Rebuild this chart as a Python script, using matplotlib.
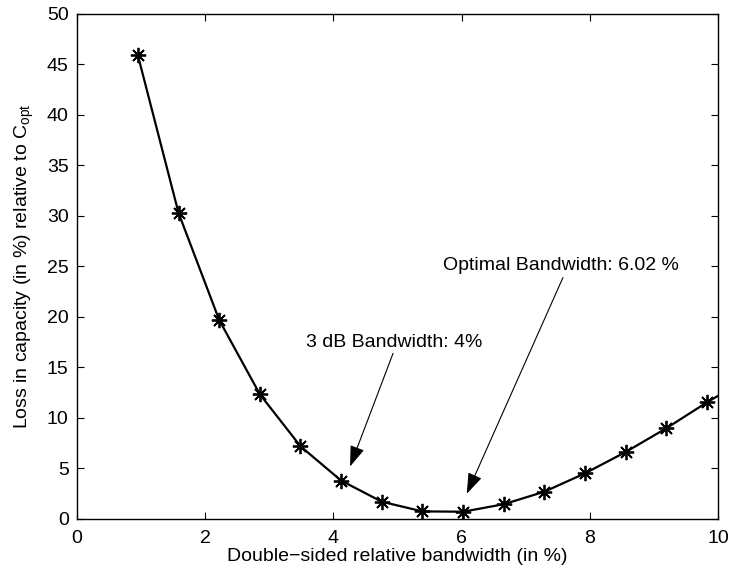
import numpy as np
import matplotlib
matplotlib.use('Agg')
import matplotlib.pyplot as plt

# bandwidth (%) vs capacity loss (%)
bandwidth = [0.95, 1.584, 2.218, 2.852, 3.486, 4.12, 4.754, 5.388, 6.022,
             6.656, 7.29, 7.924, 8.558, 9.192, 9.826, 10.46]
loss = [45.9, 30.3, 19.7, 12.35, 7.2, 3.8, 1.71, 0.75, 0.72,
        1.46, 2.7, 4.52, 6.63, 8.98, 11.55, 13.9]

xticks = [0, 2, 4, 6, 8, 10]
yticks = [0, 5, 10, 15, 20, 25, 30, 35, 40, 45, 50]

plt.rcParams['font.family'] = ['Liberation Sans', 'DejaVu Sans']
fs = 14

fig = plt.figure(figsize=(7.32, 5.71), dpi=100)
ax = fig.add_axes([0.1052, 0.0911, 0.8758, 0.8844])

# matlab-style asterisk marker (8 spokes)
ax.plot(bandwidth, loss, color='black', lw=1.6, marker=(8, 2, 0),
        markersize=11, markeredgewidth=1.3)

ax.set_xlim(0, 10)
ax.set_ylim(0, 50)
ax.set_xticks(xticks)
ax.set_yticks(yticks)
ax.tick_params(direction='in', top=True, right=True, length=5, width=0.8,
               labelsize=fs, pad=6)
ax.tick_params(axis='x', pad=8)
for s in ax.spines.values():
    s.set_linewidth(1.0)

ax.set_xlabel('Double\u2212sided relative bandwidth (in %)', fontsize=fs,
              labelpad=1)
ax.set_ylabel('Loss in capacity (in %) relative to C$_{\\mathregular{opt}}$',
              fontsize=fs, labelpad=8)

arrow = dict(arrowstyle='-|>,head_length=0.85,head_width=0.3', color='black',
             lw=0.8, shrinkA=0, shrinkB=0, mutation_scale=15)
ax.annotate('', xy=(4.26, 5.2), xytext=(4.93, 16.4), arrowprops=arrow)
ax.annotate('', xy=(6.08, 2.5), xytext=(7.58, 23.9), arrowprops=arrow)
ax.text(3.57, 17.5, '3 dB Bandwidth: 4%', fontsize=fs, va='center', ha='left')
ax.text(5.71, 25.1, 'Optimal Bandwidth: 6.02 %', fontsize=fs, va='center',
        ha='left')

fig.savefig('out.png', dpi=100)
